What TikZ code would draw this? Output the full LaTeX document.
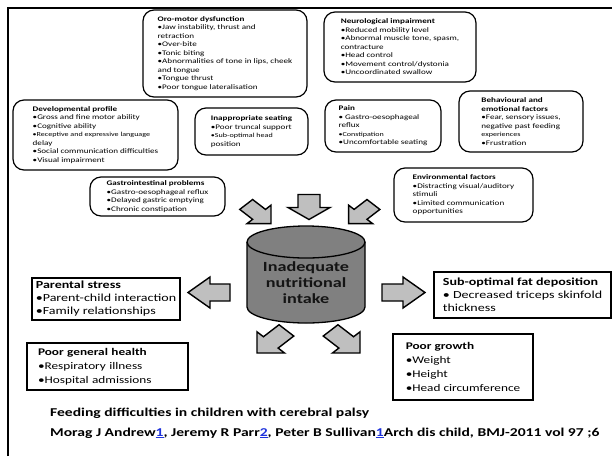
\documentclass[tikz,border=0pt]{standalone}
\usepackage{fontspec}
\setmainfont{Carlito}[FakeStretch=1.3]
\definecolor{arrowgray}{RGB}{191,191,191}
\definecolor{cylgray}{RGB}{128,128,128}
\definecolor{linkblue}{RGB}{30,50,220}
\newcommand{\lnk}[1]{{\color{linkblue}\underline{#1}}}
\newcommand{\smalltxt}[1]{{\fontsize{6.2}{8.5}\selectfont #1}}
\newcommand{\blkarrow}[8]{% x, y, rotation, length, head length, head half-width, shaft half-width, xscale
  \begin{scope}[shift={(#1,#2)},xscale=#8,rotate=#3]
    \pgfmathsetmacro\bkA{#4/2}\pgfmathsetmacro\bkB{#4/2-#5}
    \draw[blockarrow] (-\bkA,-#7) -- (\bkB,-#7) -- (\bkB,-#6) -- (\bkA,0) -- (\bkB,#6) -- (\bkB,#7) -- (-\bkA,#7) -- cycle;
  \end{scope}}
\begin{document}
\begin{tikzpicture}[x=1pt,y=-1pt,
  rbox/.style={draw=black, line width=1.2pt, rounded corners=11pt, align=left, inner sep=0pt,
    font=\fontsize{7}{8.5}\selectfont, text=black},
  sbox/.style={draw=black, line width=1.2pt, align=left, inner sep=0pt,
    font=\fontsize{10.8}{13}\selectfont, text=black},
  obox/.style={draw=black, line width=1.2pt, align=left, inner sep=0pt,
    font=\fontsize{10.2}{14}\selectfont, text=black},
  blockarrow/.style={draw=black, line width=1.4pt, fill=arrowgray, line join=miter},
  cylline/.style={draw=black, line width=1.3pt},
  cyltext/.style={align=center, font=\bfseries\fontsize{14}{16}\selectfont, text=black!92},
  foot/.style={font=\bfseries\fontsize{12}{14}\selectfont, text=black, inner sep=0pt}]

\useasboundingbox (0,0) rectangle (612,456);
\fill[white] (0,0) rectangle (612,456);
\draw[line width=2.8pt, line join=miter] (8,456) -- (8,8) -- (612,8);

% rounded boxes
\node[rbox, minimum width=164, minimum height=87] (oro) at (225,53.5)
 {\textbf{Oro-motor dysfunction}\\•Jaw instability, thrust and\\retraction\\•Over-bite\\•Tonic biting\\•Abnormalities of tone in lips, cheek\\and tongue\\•Tongue thrust\\•Poor tongue lateralisation};
\node[rbox, minimum width=152, minimum height=70] (neuro) at (400,47)
 {\textbf{Neurological impairment}\\•Reduced mobility level\\•Abnormal muscle tone, spasm,\\contracture\\•Head control\\•Movement control/dystonia\\•Uncoordinated swallow};
\node[rbox, minimum width=165, minimum height=70] (dev) at (95.5,135)
 {\textbf{Developmental profile}\\•Gross and fine motor ability\\•Cognitive ability\\\smalltxt{•Receptive and expressive language}\\delay\\•Social communication difficulties\\•Visual impairment};
\node[rbox, minimum width=113, minimum height=47] (seat) at (251.5,131.5)
 {\textbf{Inappropriate seating}\\•Poor truncal support\\\smalltxt{•Sub-optimal head}\\position};
\node[rbox, minimum width=116, minimum height=52] (pain) at (383,126)
 {\textbf{Pain}\\• Gastro-oesophageal\\reflux\\\smalltxt{•Constipation}\\•Uncomfortable seating};
\node[rbox, minimum width=124, minimum height=61] (behav) at (521,121.5)
 {\textbf{Behavioural and}\\\textbf{emotional factors}\\•Fear, sensory issues,\\negative past feeding\\\smalltxt{experiences}\\•Frustration};
\node[rbox, minimum width=135, minimum height=39] (gi) at (157.5,196.5)
 {\textbf{Gastrointestinal problems}\\•Gastro-oesophageal reflux\\•Delayed gastric emptying\\•Chronic constipation};
\node[rbox, minimum width=139, minimum height=54] (env) at (463.5,195)
 {\textbf{Environmental factors}\\•Distracting visual/auditory\\stimuli\\•Limited communication\\opportunities};

% cylinder
\fill[cylgray] (247,242) -- (247,307) arc[start angle=180, end angle=0, x radius=59, y radius=16] -- (365,242) -- cycle;
\draw[cylline] (247,242) -- (247,307) arc[start angle=180, end angle=0, x radius=59, y radius=16] -- (365,242);
\filldraw[cylline, fill=cylgray] (306,242) ellipse [x radius=59, y radius=16];
\node[cyltext] (core) at (306,283) {Inadequate\\nutritional\\intake};

% block arrows
\blkarrow{258.6}{214}{-45}{27}{13}{13}{7}{1.3}
\blkarrow{309}{207}{-90}{25}{12}{21}{11}{1}
\blkarrow{361}{214}{-135}{27}{13}{13}{7}{1.3}
\blkarrow{209}{292.5}{180}{42}{22}{15.5}{8.5}{1}
\blkarrow{403.5}{292.5}{0}{43}{22}{15.5}{8.5}{1}
\blkarrow{271.7}{341.7}{-135}{32}{15}{15}{8}{1.3}
\blkarrow{345.3}{341.7}{-45}{32}{15}{15}{8}{1.3}

% outcome boxes
\node[sbox, minimum width=148, minimum height=42] (parent) at (106,299)
 {\textbf{Parental stress}\\•Parent-child interaction\\•Family relationships};
\node[sbox, minimum width=177, minimum height=46] (fat) at (522.5,295)
 {\textbf{Sub-optimal fat deposition}\\• Decreased triceps skinfold\\thickness};
\node[obox, text width=139, inner xsep=11, minimum height=47] (health) at (107.5,366.5)
 {\textbf{Poor general health}\\•Respiratory illness\\•Hospital admissions};
\node[obox, minimum width=140, minimum height=66] (growth) at (463,367)
 {\textbf{Poor growth}\\•Weight\\•Height\\•Head circumference};

% footer
\node[foot, anchor=west] (ftitle) at (50,413) {Feeding difficulties in children with cerebral palsy};
\node[foot, anchor=west] (fauth) at (50,433) {Morag J Andrew\lnk{1}, Jeremy R Parr\lnk{2}, Peter B Sullivan\lnk{1}Arch dis child, BMJ-2011 vol 97 ;6};
\end{tikzpicture}
\end{document}
